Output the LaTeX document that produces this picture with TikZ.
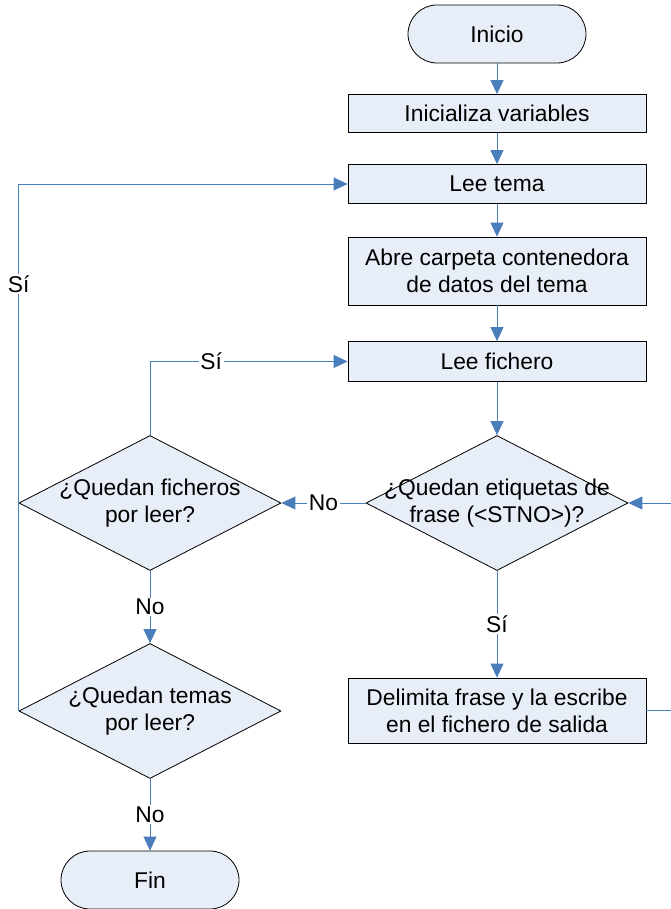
\documentclass[tikz,border=0pt]{standalone}
\usepackage{fontspec}
\setmainfont{Liberation Sans}
\usetikzlibrary{shapes.geometric,arrows.meta}
\definecolor{boxfill}{HTML}{E8EEF7}
\definecolor{flowblue}{HTML}{4A7EBB}
\begin{document}
\begin{tikzpicture}[x=1pt,y=-1pt,
  every node/.style={font=\fontsize{22.8}{27}\selectfont},
  proc/.style={draw=black, line width=0.8pt, fill=boxfill, minimum width=298pt, inner sep=0pt, align=center},
  term/.style={draw=black, line width=0.8pt, fill=boxfill, minimum width=178pt, minimum height=58pt, rounded corners=29pt, inner sep=0pt},
  dec/.style={draw=black, line width=0.8pt, fill=boxfill, diamond, minimum width=262pt, minimum height=135pt, inner sep=0pt, aspect=1.94},
  dectext/.style={align=center, inner sep=0pt},
  flow/.style={draw=flowblue, line width=0.9pt, -{Triangle[length=14pt,width=13pt]}},
  tag/.style={fill=white, inner sep=1.5pt}
]
\useasboundingbox (0,0) rectangle (671,909);
\clip (0,0) rectangle (671,909);

% main column
\node[term] (ini) at (497,34) {Inicio};
\node[proc, minimum height=38pt] (var) at (497,113.5) {Inicializa variables};
\node[proc, minimum height=39pt] (tema) at (497,184) {Lee tema};
\node[proc, minimum height=68pt] (abre) at (497,271) {Abre carpeta contenedora\\de datos del tema};
\node[proc, minimum height=40pt] (fich) at (497,361.5) {Lee fichero};
\node[dec, label={[dectext]center:¿Quedan etiquetas de\\frase (<STNO>)?}] (etq) at (497,503) {};
\node[proc, minimum height=65pt] (del) at (497,710.5) {Delimita frase y la escribe\\en el fichero de salida};

% left column
\node[dec, label={[dectext]center:¿Quedan ficheros\\por leer?}] (qf) at (150,503) {};
\node[dec, label={[dectext]center:¿Quedan temas\\por leer?}] (qt) at (150,711) {};
\node[term] (fin) at (150,880) {Fin};

% connectors
\draw[flow] (ini) -- (var);
\draw[flow] (var) -- (tema);
\draw[flow] (tema) -- (abre);
\draw[flow] (abre) -- (fich);
\draw[flow] (fich) -- (etq.north);
\draw[flow] (etq.south) -- node[tag] {Sí} (del);
\draw[flow] (etq.west) -- node[tag] {No} (qf.east);
\draw[flow] (qf.north) |- node[tag, pos=0.655] {Sí} (fich.west);
\draw[flow] (qf.south) -- node[tag] {No} (qt.north);
\draw[flow] (qt.west) |- node[tag, pos=0.405] {Sí} (tema.west);
\draw[flow] (qt.south) -- node[tag] {No} (fin);
\draw[flow] (del.east) -- ++(45,0) |- (etq.east);
\end{tikzpicture}
\end{document}
